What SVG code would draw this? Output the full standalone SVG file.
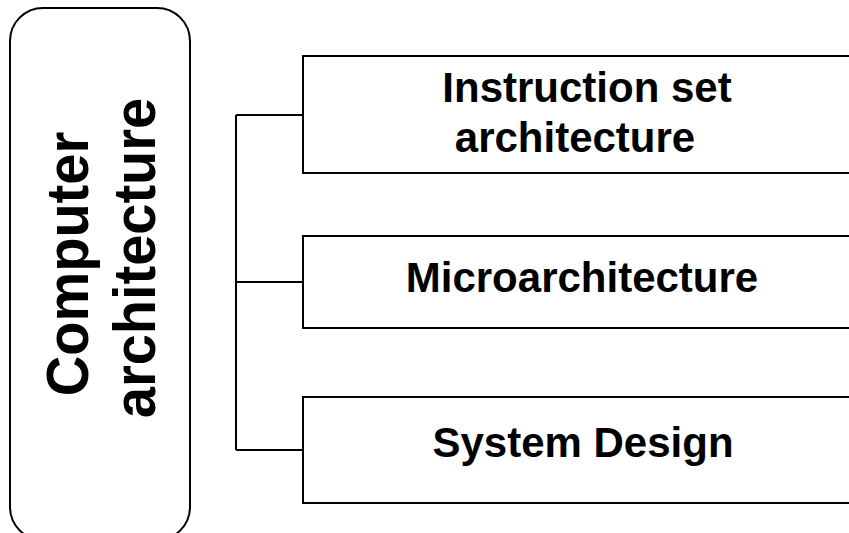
<svg xmlns="http://www.w3.org/2000/svg" width="849" height="533" viewBox="0 0 849 533">
  <style>
    .box { fill: #ffffff; stroke: #000000; stroke-width: 2; }
    .wire { fill: none; stroke: #000000; stroke-width: 2; }
    .lbl { font-family: "Liberation Sans", Arial, sans-serif; font-weight: bold; fill: #000000; text-anchor: middle; }
    .h { font-size: 42px; }
    .v { font-size: 56px; }
  </style>
  <rect width="849" height="533" fill="#ffffff"/>

  <!-- root node, rotated title -->
  <g id="root">
    <rect class="box" x="10" y="8" width="180" height="532" rx="33" ry="33"/>
    <text class="lbl v" transform="translate(88,264) rotate(-90) scale(1,1.06)">Computer</text>
    <text class="lbl v" transform="translate(155,258) rotate(-90) scale(1,1.06)">architecture</text>
  </g>

  <!-- bracket connecting the root to its three parts -->
  <g id="connectors">
    <path class="wire" d="M236,115 V450"/>
    <path class="wire" d="M236,115 H303"/>
    <path class="wire" d="M236,282 H303"/>
    <path class="wire" d="M236,450 H303"/>
  </g>

  <g id="isa">
    <rect class="box" x="303" y="56" width="560" height="117"/>
    <text class="lbl h" x="587" y="102">Instruction set</text>
    <text class="lbl h" x="575" y="152">architecture</text>
  </g>

  <g id="micro">
    <rect class="box" x="303" y="236" width="560" height="92"/>
    <text class="lbl h" x="582" y="292">Microarchitecture</text>
  </g>

  <g id="system">
    <rect class="box" x="303" y="397" width="560" height="106"/>
    <text class="lbl h" x="583" y="457">System Design</text>
  </g>
</svg>
